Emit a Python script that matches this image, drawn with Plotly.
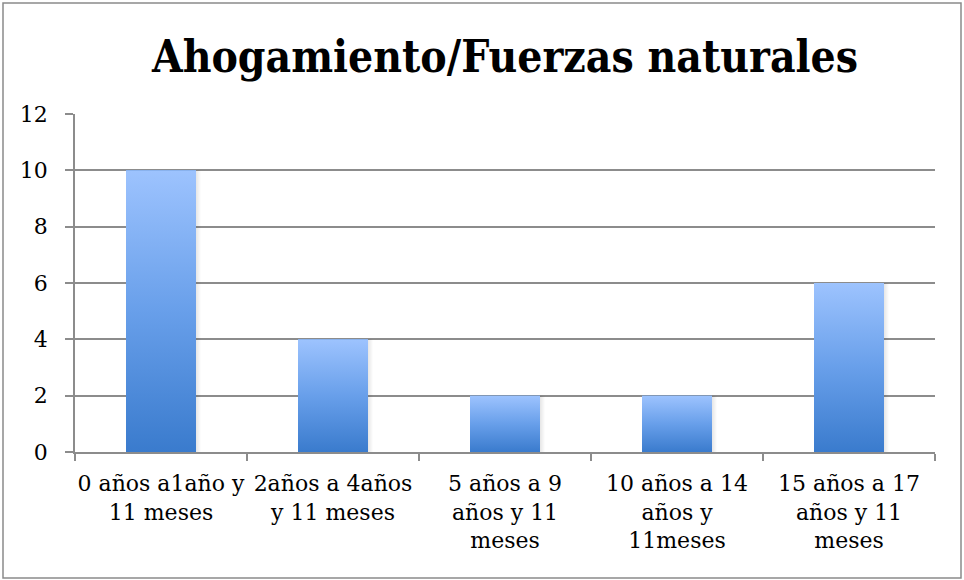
import plotly.graph_objects as go

# Data
categories = [
    "0 años a1año y<br>11 meses",
    "2años a 4años<br>y 11 meses",
    "5 años a 9<br>años y 11<br>meses",
    "10 años a 14<br>años y<br>11meses",
    "15 años a 17<br>años y 11<br>meses",
]
values = [10, 4, 2, 2, 6]
y_ticks = [0, 2, 4, 6, 8, 10, 12]

title_text = "Ahogamiento/Fuerzas naturales"

W, H = 964, 580
ML, MR, MT, MB = 75, 29, 114, 128
BAR_W = 0.407
TOP_C = "#9dc3fe"
BOT_C = "#3a7bcd"
GRID_C = "#8c8c8c"
LABEL_FONT = "DejaVu Serif"
LABEL_SIZE = 22

positions = list(range(len(categories)))

fig = go.Figure()

# soft shadow to the right of each bar
for x, v in zip(positions, values):
    x0, x1 = x + BAR_W / 2, x + BAR_W / 2 + 0.03
    fig.add_trace(go.Scatter(
        x=[x0, x1, x1, x0, x0], y=[0, 0, v, v, 0],
        mode="lines", line=dict(width=0), fill="toself",
        fillgradient=dict(type="horizontal",
                          colorscale=[[0, "rgba(0,0,0,0.10)"], [1, "rgba(0,0,0,0)"]]),
        hoverinfo="skip", showlegend=False,
    ))

# base bars
fig.add_trace(go.Bar(
    x=positions, y=values, width=BAR_W,
    marker=dict(color=BOT_C, line=dict(width=0)),
    showlegend=False, hoverinfo="x+y",
))

# vertical gradient fill on each bar
for x, v in zip(positions, values):
    x0, x1 = x - BAR_W / 2, x + BAR_W / 2
    fig.add_trace(go.Scatter(
        x=[x0, x1, x1, x0, x0], y=[0, 0, v, v, 0],
        mode="lines", line=dict(width=0), fill="toself",
        fillgradient=dict(type="vertical",
                          colorscale=[[0, BOT_C], [0.5, "#689fea"], [1, TOP_C]]),
        hoverinfo="skip", showlegend=False,
    ))

pw = W - ML - MR
ph = H - MT - MB

fig.update_layout(
    width=W, height=H,
    margin=dict(l=ML, r=MR, t=MT, b=MB, pad=0),
    paper_bgcolor="white", plot_bgcolor="white",
    font=dict(family=LABEL_FONT, size=LABEL_SIZE, color="#000000"),
    title=dict(
        text="<b>" + title_text + "</b>",
        x=0.5, xanchor="center", xref="paper",
        y=1 - 57 / H, yanchor="middle",
        font=dict(family="DejaVu Serif Condensed", size=44, color="#000000"),
    ),
    xaxis=dict(
        range=[-0.5, len(categories) - 0.5],
        tickvals=positions, ticktext=categories,
        ticks="", showgrid=False, zeroline=False,
        showline=True, linecolor=GRID_C, linewidth=1.5,
        minor=dict(tick0=-0.5, dtick=1, ticks="outside", ticklen=7,
                   tickcolor=GRID_C, tickwidth=1.5, showgrid=False),
        tickfont=dict(family=LABEL_FONT, size=LABEL_SIZE),
        ticklabelstandoff=11,
        fixedrange=True,
    ),
    yaxis=dict(
        range=[0, 12], tickvals=y_ticks,
        ticks="outside", ticklen=8, tickcolor=GRID_C, tickwidth=1.5,
        showgrid=True, gridcolor=GRID_C, gridwidth=1.5,
        zeroline=False, showline=True, linecolor=GRID_C, linewidth=1.5,
        tickfont=dict(family=LABEL_FONT, size=LABEL_SIZE),
        ticklabelstandoff=13,
        fixedrange=True,
    ),
    shapes=[dict(
        type="rect", xref="paper", yref="paper",
        x0=(3 - ML) / pw, x1=(961 - ML) / pw,
        y0=(H - 578 - MB) / ph, y1=(H - 3 - MB) / ph,
        line=dict(color="#8a8a8a", width=1.5), fillcolor="rgba(0,0,0,0)",
        layer="below",
    )],
)

fig.write_html("out.html")
